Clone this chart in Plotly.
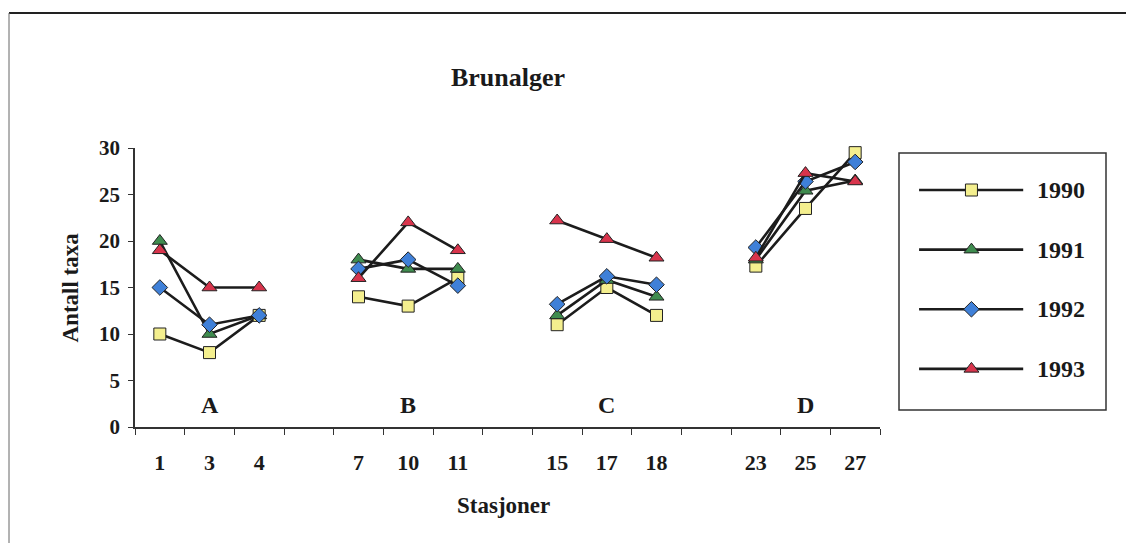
import plotly.graph_objects as go

# Stations grouped by area, as in the chart
GROUPS = ["A", "B", "C", "D"]
STATIONS = [["1", "3", "4"], ["7", "10", "11"], ["15", "17", "18"], ["23", "25", "27"]]

YEARS = ["1990", "1991", "1992", "1993"]

# Antall taxa per station (same order as STATIONS flattened)
TAXA_1990 = [10, 8, 12, 14, 13, 16, 11, 15, 12, 17.3, 23.5, 29.5]
TAXA_1991 = [20, 10, 12, 18, 17, 17, 12, 15.8, 14, 18, 25.4, 26.5]
TAXA_1992 = [15, 11, 12, 17, 18, 15.2, 13.2, 16.2, 15.3, 19.3, 26.4, 28.5]
TAXA_1993 = [19, 15, 15, 16, 22, 19, 22.2, 20.2, 18.2, 18.2, 27.3, 26.4]

SERIES = [TAXA_1990, TAXA_1991, TAXA_1992, TAXA_1993]

FONT = "Liberation Serif, Times New Roman, serif"
LINE_COLOR = "#1c1c1c"
MARKERS = [
    dict(symbol="square", color="#f4ef8e", size=12),
    dict(symbol="triangle-up", color="#3f8c4f", size=13),
    dict(symbol="diamond", color="#3f80d8", size=12),
    dict(symbol="triangle-up", color="#d8344c", size=13),
]

# one empty slot between groups
SLOT = 4
x_slots, labels = [], []
for g, st in enumerate(STATIONS):
    for i, s in enumerate(st):
        x_slots.append(g * SLOT + i)
        labels.append(s)
n_slots = len(GROUPS) * SLOT - 1


def with_gaps(values):
    xs, ys, k = [], [], 0
    for g, st in enumerate(STATIONS):
        for i in range(len(st)):
            xs.append(x_slots[k])
            ys.append(values[k])
            k += 1
        xs.append(None)
        ys.append(None)
    return xs, ys


fig = go.Figure()

for year, vals, mk in zip(YEARS, SERIES, MARKERS):
    xs, ys = with_gaps(vals)
    fig.add_trace(go.Scatter(
        x=xs, y=ys, mode="lines+markers", name=year, showlegend=False,
        line=dict(color=LINE_COLOR, width=2.6),
        marker=dict(symbol=mk["symbol"], color=mk["color"], size=mk["size"],
                    line=dict(color="#222", width=1)),
        cliponaxis=False,
    ))

# hand-built legend on its own axes
LEG_X0, LEG_XM, LEG_X1 = 0.097, 0.35, 0.60
for i, (year, mk) in enumerate(zip(YEARS, MARKERS)):
    yy = 0.856 - i * 0.232
    fig.add_trace(go.Scatter(
        x=[LEG_X0, LEG_X1], y=[yy, yy], mode="lines", showlegend=False,
        line=dict(color=LINE_COLOR, width=2.6), xaxis="x2", yaxis="y2",
        hoverinfo="skip",
    ))
    fig.add_trace(go.Scatter(
        x=[LEG_XM], y=[yy], mode="markers", showlegend=False,
        marker=dict(symbol=mk["symbol"], color=mk["color"], size=mk["size"],
                    line=dict(color="#222", width=1)),
        xaxis="x2", yaxis="y2", hoverinfo="skip",
    ))
    fig.add_annotation(x=0.657, y=yy, xref="x2", yref="y2", text=f"<b>{year}</b>",
                       showarrow=False, xanchor="left", yanchor="middle",
                       font=dict(family=FONT, size=24, color="#1a1a1a"))

# group letters A-D under each group
for g, name in enumerate(GROUPS):
    fig.add_annotation(x=g * SLOT + 1, y=2.4, xref="x", yref="y", text=f"<b>{name}</b>",
                       showarrow=False, font=dict(family=FONT, size=24, color="#1a1a1a"))

# page body adds an 8px offset; target pixel positions are corrected for it
OFF = 8
W, H = 1134, 543
L, R, T, B = 135 - OFF, 20, 148 - OFF, 116 + OFF
pw = W - L - R
ph = H - T - B


def px(x):
    return (x - OFF - L) / pw


def py(y):
    return (H - B - (y - OFF)) / ph


fig.update_layout(
    width=W, height=H,
    margin=dict(l=L, r=R, t=T, b=B),
    paper_bgcolor="white", plot_bgcolor="white",
    font=dict(family=FONT, color="#1a1a1a"),
    title=dict(text="<b>Brunalger</b>", x=(508 - OFF) / W, xanchor="center",
               y=1 - (77 - OFF) / H, yanchor="middle", xref="container", yref="container",
               font=dict(family=FONT, size=26, color="#1a1a1a")),
    xaxis=dict(
        domain=[0, px(880)], range=[-0.5, n_slots - 0.5],
        tickvals=x_slots, ticktext=[f"<b>{t}</b>" for t in labels],
        ticks="", showgrid=False, zeroline=False,
        showline=True, linecolor="#333", linewidth=1.5,
        tickfont=dict(family=FONT, size=22, color="#1a1a1a"),
        ticklabelstandoff=15,
        minor=dict(tick0=-0.5, dtick=1, ticks="outside", ticklen=6,
                   tickcolor="#333", tickwidth=1.2, showgrid=False),
    ),
    yaxis=dict(
        range=[0, 30], tickvals=[0, 5, 10, 15, 20, 25, 30],
        ticktext=[f"<b>{v}</b>" for v in [0, 5, 10, 15, 20, 25, 30]],
        ticks="outside", ticklen=5, tickcolor="#333",
        showgrid=False, zeroline=False,
        showline=True, linecolor="#333", linewidth=1.5,
        tickfont=dict(family=FONT, size=21, color="#1a1a1a"),
        ticklabelstandoff=4,
    ),
    xaxis2=dict(domain=[px(899), px(1106)], range=[0, 1],
                visible=False, anchor="y2", fixedrange=True),
    yaxis2=dict(domain=[py(410), py(153)], range=[0, 1],
                visible=False, anchor="x2", fixedrange=True),
    annotations=list(fig.layout.annotations) + [
        dict(text="<b>Antall taxa</b>", x=px(70), y=0.5, xref="paper", yref="paper",
             textangle=-90, showarrow=False, xanchor="center", yanchor="middle",
             font=dict(family=FONT, size=23, color="#1a1a1a")),
        dict(text="<b>Stasjoner</b>", x=px(503), y=py(505),
             xref="paper", yref="paper", showarrow=False,
             xanchor="center", yanchor="middle",
             font=dict(family=FONT, size=23, color="#1a1a1a")),
    ],
    shapes=[
        dict(type="rect", xref="x2 domain", yref="y2 domain", x0=0, x1=1, y0=0, y1=1,
             line=dict(color="#333", width=1.5)),
        # outer frame of the scanned figure
        dict(type="line", xref="paper", yref="paper", x0=px(9), x1=px(1150),
             y0=py(13), y1=py(13), line=dict(color="#222", width=2)),
        dict(type="line", xref="paper", yref="paper", x0=px(9), x1=px(9),
             y0=py(13), y1=py(560), line=dict(color="#666", width=1)),
    ],
)

fig.write_html("out.html")
